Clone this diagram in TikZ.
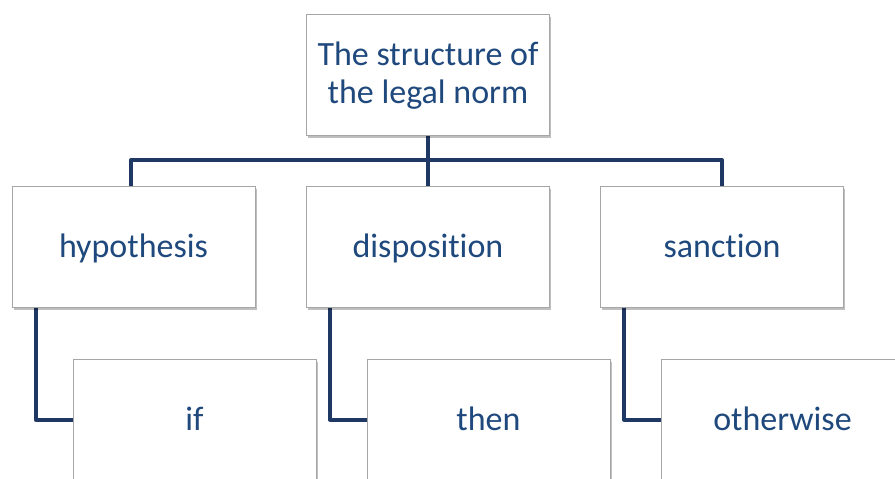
\documentclass[tikz,border=0pt]{standalone}
\usepackage{fontspec}
\setmainfont[Ligatures=NoCommon]{Carlito}
\usetikzlibrary{shadows,backgrounds}
\definecolor{linkblue}{HTML}{1F3864}
\definecolor{textblue}{HTML}{1F497D}
\definecolor{boxgray}{HTML}{A6A6A6}
\tikzset{
  box/.style={draw=boxgray, line width=0.9pt, fill=white, minimum width=243pt, minimum height=121pt,
    inner sep=0pt, align=center, text=textblue, font=\fontsize{34}{38}\selectfont,
    drop shadow={shadow xshift=1.5pt, shadow yshift=-2.5pt, opacity=0.25, fill=black}},
  onel/.style={text height=25pt, text depth=4pt},
  twol/.style={text depth=3pt},
  link/.style={draw=linkblue, line width=4pt, line join=round}
}
\begin{document}
\begin{tikzpicture}[x=1pt, y=-1pt]
\useasboundingbox (0,0) rectangle (895,479);
\clip (0,0) rectangle (895,479);
% nodes
\node[box, twol] (top) at (428,74.5) {The structure of\\the legal norm};
\node[box, onel] (hyp) at (133.5,246.5) {hypothesis};
\node[box, onel] (disp) at (428,246.5) {disposition};
\node[box, onel] (sanc) at (722,246.5) {sanction};
\node[box, onel] (if) at (194.5,419.5) {if};
\node[box, onel] (then) at (488.5,419.5) {then};
\node[box, onel] (other) at (782.5,419.5) {otherwise};
\coordinate (bar) at (428,160);
% connectors
\begin{scope}[on background layer]
\fill[white] (0,0) rectangle (895,479);
\draw[link] (top.south) -- (disp.north);
\draw[link] ([xshift=-2.5pt]hyp.north) |- (bar) -| (sanc.north);
\draw[link] ([xshift=24pt]hyp.south west) |- (if.west);
\draw[link] ([xshift=24pt]disp.south west) |- (then.west);
\draw[link] ([xshift=24pt]sanc.south west) |- (other.west);
\end{scope}
\end{tikzpicture}
\end{document}
